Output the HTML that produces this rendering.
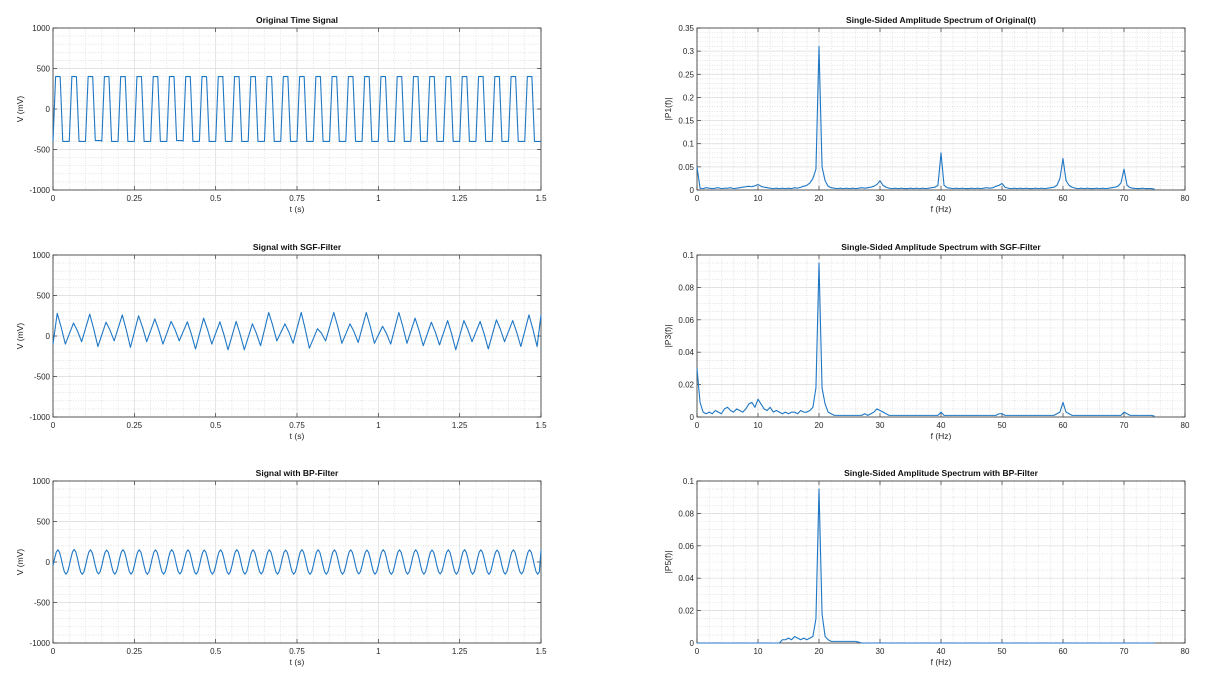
<!DOCTYPE html>
<html><head><meta charset="utf-8"><style>
body{margin:0;background:#fff;width:1230px;height:672px;overflow:hidden;font-family:"Liberation Sans",sans-serif}
svg text{font-family:"Liberation Sans",sans-serif}
</style></head><body>
<svg id="c" width="1230" height="672" xmlns="http://www.w3.org/2000/svg"></svg>
<script>
// ---- data ----
const sig1Hi=[400,400,400,400,400,400,400,400,400,400,400,400,400,400,400,400,400,400,400,400,400,400,400,400,400,400,400,400,400,400];
const sig1Lo=[-400,-400,-390,-400,-400,-400,-400,-390,-400,-400,-400,-400,-400,-400,-400,-400,-400,-400,-400,-400,-400,-400,-400,-400,-400,-400,-400,-400,-400,-400];
const sig2Peak=[280,160,270,170,260,250,210,180,175,220,175,180,150,290,150,290,90,290,150,290,120,290,220,170,190,190,180,200,190,260];
const sig2Trough=[-100,-70,-130,-60,-140,-70,-100,-60,-160,-100,-170,-170,-120,-60,-90,-150,-60,-90,-80,-90,-100,-90,-120,-110,-170,-70,-160,-70,-130,-130];
const sig3Peak=[150,155,150,148,152,150,150,152,150,148,150,152,150,150,148,152,150,150,150,148,152,150,150,148,150,152,150,148,150,150];
const sig3Trough=[-150,-152,-148,-150,-150,-152,-150,-148,-150,-150,-152,-150,-148,-150,-150,-152,-150,-150,-148,-150,-152,-150,-150,-148,-150,-150,-152,-150,-148,-150];
const timeTicks=[0,0.25,0.5,0.75,1,1.25,1.5];
const timeTickLabels=["0","0.25","0.5","0.75","1","1.25","1.5"];
const voltTicks=[-1000,-500,0,500,1000];
const freqTicks=[0,10,20,30,40,50,60,70,80];
const spec1=[.05,.004,.003,.005,.004,.003,.004,.005,.003,.004,
.004,.005,.003,.004,.005,.006,.007,.008,.007,.009,
.012,.008,.006,.005,.004,.003,.004,.003,.004,.003,
.004,.003,.005,.004,.006,.008,.01,.015,.025,.045,
.31,.05,.02,.008,.005,.004,.003,.004,.003,.004,
.003,.004,.003,.004,.005,.004,.005,.006,.008,.012,
.02,.01,.006,.004,.003,.004,.003,.004,.003,.003,
.004,.003,.004,.003,.004,.003,.004,.005,.006,.01,
.08,.01,.005,.004,.003,.004,.003,.004,.003,.003,
.004,.003,.004,.003,.004,.005,.004,.005,.008,.01,
.014,.006,.004,.003,.004,.003,.004,.003,.004,.003,
.003,.004,.003,.004,.003,.004,.005,.006,.01,.025,
.068,.02,.01,.006,.004,.003,.004,.003,.004,.003,
.003,.004,.003,.004,.003,.004,.005,.006,.008,.015,
.045,.01,.005,.004,.003,.003,.004,.003,.003,.003,.002];
const spec2=[.03,.009,.003,.002,.003,.002,.004,.003,.002,.005,
.006,.004,.003,.005,.004,.003,.005,.008,.009,.006,
.011,.008,.005,.004,.006,.003,.004,.003,.002,.003,
.002,.003,.003,.002,.004,.003,.003,.004,.006,.018,
.095,.018,.008,.003,.002,.001,.001,.001,.001,.001,
.001,.001,.001,.001,.001,.002,.001,.002,.003,.005,
.004,.003,.002,.001,.001,.001,.001,.001,.001,.001,
.001,.001,.001,.001,.001,.001,.001,.001,.001,.001,
.003,.001,.001,.001,.001,.001,.001,.001,.001,.001,
.001,.001,.001,.001,.001,.001,.001,.001,.001,.002,
.002,.001,.001,.001,.001,.001,.001,.001,.001,.001,
.001,.001,.001,.001,.001,.001,.001,.001,.002,.003,
.009,.003,.002,.001,.001,.001,.001,.001,.001,.001,
.001,.001,.001,.001,.001,.001,.001,.001,.001,.001,
.003,.002,.001,.001,.001,.001,.001,.001,.001,.001,.0005];
const spec3=[0,0,0,0,0,0,0,0,0,0,
0,0,0,0,0,0,0,0,0,0,
0,0,0,0,0,0,0,0,.002,.002,
.003,.002,.004,.003,.002,.003,.002,.003,.004,.015,
.095,.018,.004,.002,.001,.001,.001,.001,.001,.001,
.001,.001,.001,.0005,0,0,0,0,0,0,
0,0,0,0,0,0,0,0,0,0,0,0,0,0,0,0,0,0,0,0,
0,0,0,0,0,0,0,0,0,0,0,0,0,0,0,0,0,0,0,0,
0,0,0,0,0,0,0,0,0,0,0,0,0,0,0,0,0,0,0,0,
0,0,0,0,0,0,0,0,0,0,0,0,0,0,0,0,0,0,0,0,
0,0,0,0,0,0,0,0,0,0,0];
const freqStep=0.5;

// ---- drawing ----
const NS="http://www.w3.org/2000/svg";
const svg=document.getElementById('c');
function mk(tag,attrs,parent){const e=document.createElementNS(NS,tag);for(const k in attrs)e.setAttribute(k,attrs[k]);(parent||svg).appendChild(e);return e;}
function axes(o){
  const g=mk('g',{});
  
  
  const sx=v=>o.x0+(v-o.xmin)/(o.xmax-o.xmin)*(o.x1-o.x0);
  const sy=v=>o.y1-(v-o.ymin)/(o.ymax-o.ymin)*(o.y1-o.y0);
  // minor grid
  for(let v=o.xmin;v<=o.xmax+1e-9;v+=o.xminor){const x=sx(v);mk('line',{x1:x,x2:x,y1:o.y0,y2:o.y1,stroke:'#d4d4d4','stroke-width':0.6,'stroke-dasharray':'1,1.5'},g);}
  for(let v=o.ymin;v<=o.ymax+1e-9;v+=o.yminor){const y=sy(v);mk('line',{x1:o.x0,x2:o.x1,y1:y,y2:y,stroke:'#d4d4d4','stroke-width':0.6,'stroke-dasharray':'1,1.5'},g);}
  // major grid + ticks
  o.xticks.forEach((v,i)=>{const x=sx(v);mk('line',{x1:x,x2:x,y1:o.y0,y2:o.y1,stroke:'#dcdcdc','stroke-width':0.7},g);
    mk('line',{x1:x,x2:x,y1:o.y1,y2:o.y1-4,stroke:'#333','stroke-width':0.7},g);mk('line',{x1:x,x2:x,y1:o.y0,y2:o.y0+4,stroke:'#333','stroke-width':0.7},g);
    const t=mk('text',{x:x,y:o.y1+11,'font-size':8,'text-anchor':'middle',fill:'#262626'},g);t.textContent=o.xlabels[i];});
  o.yticks.forEach((v,i)=>{const y=sy(v);mk('line',{x1:o.x0,x2:o.x1,y1:y,y2:y,stroke:'#dcdcdc','stroke-width':0.7},g);
    mk('line',{x1:o.x0,x2:o.x0+4,y1:y,y2:y,stroke:'#333','stroke-width':0.7},g);mk('line',{x1:o.x1,x2:o.x1-4,y1:y,y2:y,stroke:'#333','stroke-width':0.7},g);
    const t=mk('text',{x:o.x0-3,y:y+3,'font-size':8,'text-anchor':'end',fill:'#262626'},g);t.textContent=o.ylabels[i];});
  mk('rect',{x:o.x0,y:o.y0,width:o.x1-o.x0,height:o.y1-o.y0,fill:'none',stroke:'#333','stroke-width':0.8},g);
  const tt=mk('text',{x:(o.x0+o.x1)/2,y:o.y0-5,'font-size':8.5,'font-weight':'bold','text-anchor':'middle',fill:'#111'},g);tt.textContent=o.title;
  const xl=mk('text',{x:(o.x0+o.x1)/2,y:o.y1+22,'font-size':8.5,'text-anchor':'middle',fill:'#262626'},g);xl.textContent=o.xlabel;
  const yx=o.x0-(o.ylw||32),yy=(o.y0+o.y1)/2;
  const yl=mk('text',{x:yx,y:yy,'font-size':8.5,'text-anchor':'middle',fill:'#262626',transform:`rotate(-90 ${yx} ${yy})`},g);yl.textContent=o.ylabel;
  return {sx,sy,g};
}
function line(ax,pts,name){
  const p=mk('polyline',{points:pts.map(q=>ax.sx(q[0]).toFixed(2)+','+ax.sy(q[1]).toFixed(2)).join(' '),fill:'none',stroke:'#1f77c4','stroke-width':1.1,'stroke-linejoin':'round'},ax.g);
  
  
}
const L={x0:53,x1:541},R={x0:697,x1:1185};
const rows=[[28,190],[255,417],[481,643]];
const tOpts=(r,title,name)=>Object.assign({name,title,x0:L.x0,x1:L.x1,y0:rows[r][0],y1:rows[r][1],xmin:0,xmax:1.5,ymin:-1000,ymax:1000,xminor:0.05,yminor:100,
  xticks:timeTicks,xlabels:timeTickLabels,yticks:voltTicks,ylabels:voltTicks.map(String),xlabel:'t (s)',ylabel:'V (mV)',ylw:30});
const period=0.05;
// signal 1
let a=axes(tOpts(0,'Original Time Signal','original-signal-plot'));
let pts=[];
sig1Hi.forEach((h,k)=>{const t0=k*period;pts.push([t0,sig1Lo[k]],[t0+0.008,h],[t0+0.022,h],[t0+0.03,sig1Lo[k]],[t0+0.05-0.0001,sig1Lo[k]]);});
line(a,pts,'original-signal-line');
// signal 2
a=axes(tOpts(1,'Signal with SGF-Filter','sgf-signal-plot'));
pts=[[0,-100]];
sig2Peak.forEach((p,k)=>{const t0=k*period;pts.push([t0+0.013,p],[t0+0.025,(p+sig2Trough[k])/2+20],[t0+0.038,sig2Trough[k]]);});
pts.push([1.5,260]);
line(a,pts,'sgf-signal-line');
// signal 3
a=axes(tOpts(2,'Signal with BP-Filter','bp-signal-plot'));
pts=[];
sig3Peak.forEach((p,k)=>{const t0=k*period,tr=sig3Trough[k];
  for(let j=0;j<10;j++){const ph=j/10;const c=Math.cos(2*Math.PI*(ph-0.3));pts.push([t0+ph*period,c>=0?c*p:-c*tr]);}});
pts.push([1.5,150]);
line(a,pts,'bp-signal-line');
// spectra
const fOpts=(r,title,name,ymax,ymajor,yminor,ylabel,ylabels)=>{const yt=ylabels.map(Number);return {name,title,x0:R.x0,x1:R.x1,y0:rows[r][0],y1:rows[r][1],xmin:0,xmax:80,ymin:0,ymax,xminor:2,yminor,
  xticks:freqTicks,xlabels:freqTicks.map(String),yticks:yt,ylabels,xlabel:'f (Hz)',ylabel,ylw:26};};
function spec(ax,arr,name){line(ax,arr.map((v,i)=>[i*freqStep,v]),name);}
a=axes(fOpts(0,'Single-Sided Amplitude Spectrum of Original(t)','spectrum-original-plot',0.35,0.05,0.01,'|P1(f)|',["0","0.05","0.1","0.15","0.2","0.25","0.3","0.35"]));
spec(a,spec1,'spectrum-original-line');
a=axes(fOpts(1,'Single-Sided Amplitude Spectrum with SGF-Filter','spectrum-sgf-plot',0.1,0.02,0.005,'|P3(f)|',["0","0.02","0.04","0.06","0.08","0.1"]));
spec(a,spec2,'spectrum-sgf-line');
a=axes(fOpts(2,'Single-Sided Amplitude Spectrum with BP-Filter','spectrum-bp-plot',0.1,0.02,0.005,'|P5(f)|',["0","0.02","0.04","0.06","0.08","0.1"]));
spec(a,spec3,'spectrum-bp-line');
</script>
</body></html>
